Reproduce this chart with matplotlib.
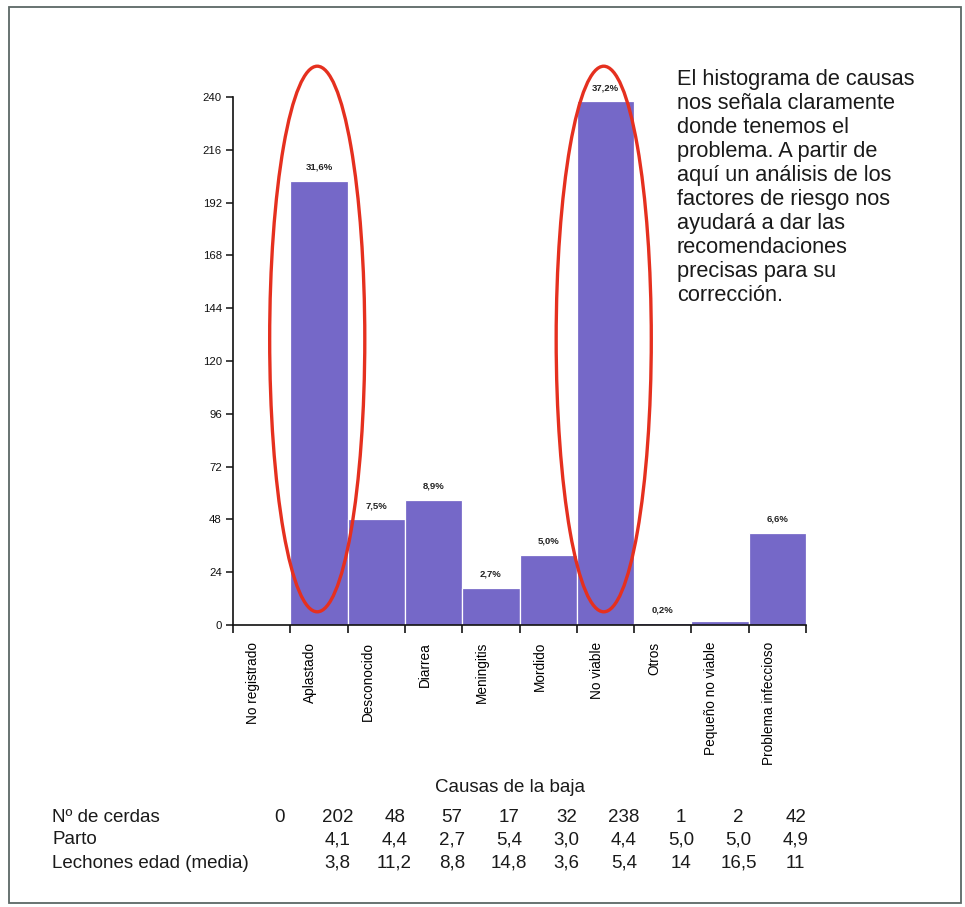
import numpy as np
import matplotlib
matplotlib.use("Agg")
import matplotlib.pyplot as plt
from matplotlib.patches import Ellipse, Rectangle
from matplotlib.transforms import blended_transform_factory

plt.rcParams["font.family"] = ["Liberation Sans", "DejaVu Sans"]

# ── Datos ─────────────────────────────────────────────────────────────────────
causas = ["No registrado", "Aplastado", "Desconocido", "Diarrea", "Meningitis",
          "Mordido", "No viable", "Otros", "Pequeño no viable", "Problema infeccioso"]
n_cerdas = [0, 202, 48, 57, 17, 32, 238, 1, 2, 42]
pct_labels = ["", "31,6%", "7,5%", "8,9%", "2,7%", "5,0%", "37,2%", "0,2%", "", "6,6%"]
parto = ["", "4,1", "4,4", "2,7", "5,4", "3,0", "4,4", "5,0", "5,0", "4,9"]
edad = ["", "3,8", "11,2", "8,8", "14,8", "3,6", "5,4", "14", "16,5", "11"]
resaltadas = ["Aplastado", "No viable"]
y_ticks = list(range(0, 241, 24))

comentario = ("El histograma de causas\nnos señala claramente\ndonde tenemos el\n"
              "problema. A partir de\naquí un análisis de los\nfactores de riesgo nos\n"
              "ayudará a dar las\nrecomendaciones\nprecisas para su\ncorrección.")

BAR_COLOR = "#7568c8"
RED = "#e5301f"

W, H = 965, 907
fig = plt.figure(figsize=(W / 100, H / 100), dpi=100)
fig.patch.set_facecolor("white")

ax = fig.add_axes([233 / W, 1 - 625 / H, (806 - 233) / W, (625 - 97) / H])
x = np.arange(len(causas))
ax.bar(x, n_cerdas, width=1.0, align="edge", color=BAR_COLOR,
       edgecolor="white", linewidth=0.9, zorder=1)

for i, (v, lbl) in enumerate(zip(n_cerdas, pct_labels)):
    if lbl:
        ax.text(i + 0.5, v + 4, lbl, ha="center", va="bottom",
                fontsize=6.8, fontweight="bold", color="#222222")

# elipses rojas sobre las dos causas principales
for c in resaltadas:
    i = causas.index(c)
    ax.add_patch(Ellipse((i + 0.47, 130), width=1.66, height=248, fill=False,
                         edgecolor=RED, linewidth=2.4, clip_on=False, zorder=4))

ax.set_xlim(0, len(causas))
ax.set_ylim(0, 240)
for s in ("top", "right"):
    ax.spines[s].set_visible(False)
for s in ("left", "bottom"):
    ax.spines[s].set_linewidth(1.2)
    ax.spines[s].set_color("#111111")

ax.set_yticks(y_ticks)
ax.tick_params(axis="y", direction="out", length=5, width=1.1, pad=3,
               labelsize=8.2, colors="#111111")

ax.set_xticks(np.arange(len(causas) + 1))
ax.set_xticklabels([])
ax.tick_params(axis="x", which="major", direction="out", length=5.5, width=1.1)
ax.set_xticks(x + 0.35, minor=True)
ax.set_xticklabels(causas, minor=True, rotation=90, ha="center", va="top",
                   fontsize=9.8)
ax.tick_params(axis="x", which="minor", length=0, pad=12)

# ── Texto lateral ─────────────────────────────────────────────────────────────
fig.text(677 / W, 1 - 69 / H, comentario, ha="left", va="top",
         fontsize=15.7, linespacing=1.19, color="#1a1a1a")

# ── Tabla inferior ────────────────────────────────────────────────────────────
fig.text(510 / W, 1 - 787 / H, "Causas de la baja", ha="center", va="center",
         fontsize=13.5, color="#1a1a1a")

tr = blended_transform_factory(ax.transData, fig.transFigure)
filas = [("Nº de cerdas", [str(n) for n in n_cerdas], 817),
         ("Parto", parto, 840),
         ("Lechones edad (media)", edad, 863)]
for nombre, vals, yp in filas:
    fig.text(52 / W, 1 - yp / H, nombre, ha="left", va="center",
             fontsize=13.5, color="#1a1a1a")
    for i, v in enumerate(vals):
        if v:
            fig.text(i + 0.82, 1 - yp / H, v, transform=tr, ha="center",
                     va="center", fontsize=13.5, color="#1a1a1a")

# marco
fig.add_artist(Rectangle((9 / W, 1 - 903 / H), (961 - 9) / W, (903 - 7) / H,
                         transform=fig.transFigure, fill=False,
                         edgecolor="#5c6866", linewidth=1.3))

fig.savefig("out.png", dpi=100)
